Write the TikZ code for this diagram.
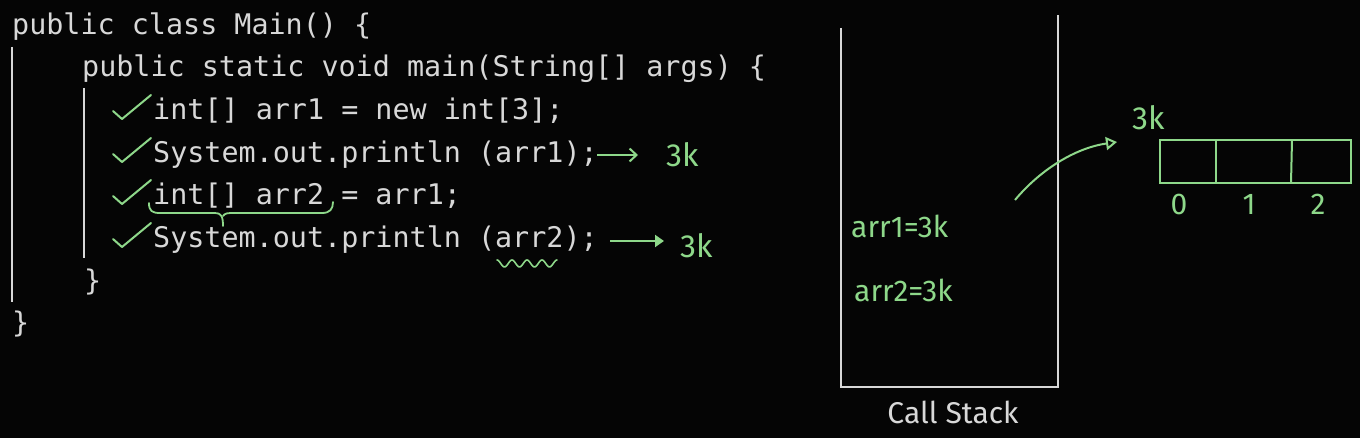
\documentclass[tikz,border=0pt]{standalone}
\usepackage{fontspec}
\newfontfamily\codefont{DejaVu Sans Mono}
\newfontfamily\handfont{Fira Sans}
\usetikzlibrary{arrows.meta}
\definecolor{codegray}{HTML}{D8D8D8}
\definecolor{chalk}{HTML}{8ED88A}
\definecolor{bg}{HTML}{050505}
\tikzset{
  codeline/.style={anchor=base west, inner sep=0pt, text=codegray,
    font=\codefont\fontsize{28.4}{34}\selectfont},
  guide/.style={draw=codegray, line width=2pt},
  tick/.style={draw=chalk, line width=2pt, line cap=round, line join=round},
  note/.style={inner sep=0pt, text=chalk, font=\handfont\fontsize{32}{36}\selectfont},
  stacknote/.style={inner sep=0pt, text=chalk, font=\handfont\fontsize{30}{34}\selectfont},
  stackwall/.style={draw=codegray, line width=2.5pt},
  cell/.style={draw=chalk, line width=2pt},
}
\begin{document}
\begin{tikzpicture}[x=1pt,y=-1pt]
\fill[bg] (0,0) rectangle (1360,438);
\useasboundingbox (0,0) rectangle (1360,438);

% code
\node[codeline] (l1) at (12,35) {public class Main() \{};
\node[codeline] (l2) at (82,77) {public static void main(String[] args) \{};
\node[codeline] (l3) at (153,120) {int[] arr1 = new int[3];};
\node[codeline] (l4) at (153,163) {System.out.println (arr1);};
\node[codeline] (l5) at (153,205) {int[] arr2 = arr1;};
\node[codeline] (l6) at (153,248) {System.out.println (arr2);};
\node[codeline] (l7) at (84,291) {\}};
\node[codeline] (l8) at (12,333) {\}};

% indentation guides
\draw[guide] (12,47) -- (12,302);
\draw[guide] (84,88) -- (84,258);

% check marks
\foreach \b in {120,163,205,248}{
  \draw[tick] (113,\b-9) -- (122,\b-1) -- (151,\b-25);
}

% annotations for printlns
\coordinate (a1s) at (597,155);
\coordinate (a1e) at (638,155);
\node[note, anchor=west] (k1) at (666,155) {3k};
\draw[chalk, line width=2pt, -{Straight Barb[length=7pt,width=13pt]}] (a1s) -- (a1e);
\coordinate (a2s) at (610,241);
\coordinate (a2e) at (664,241);
\node[note, anchor=west] (k2) at (680,246) {3k};
\draw[chalk, line width=2pt, -{Triangle[length=9pt,width=12pt]}] (a2s) -- (a2e);

% brace under "int[] arr2"
\draw[tick, line width=1.8pt] (149,203) .. controls (149,211) and (152,213) .. (160,213)
  -- (215,213) .. controls (221,213) and (223,216) .. (223,226);
\draw[tick, line width=1.8pt] (223,216) .. controls (225,213) and (228,213) .. (234,213)
  -- (322,213) .. controls (330,213) and (333,209) .. (333,202);

% squiggle under arr2
\draw[tick, line width=1.6pt] plot[domain=0:60, samples=61] ({497+\x},{263.5-3.5*cos(\x*24)});

% call stack
\draw[stackwall] (841,28) -- (841,387) -- (1058,387) -- (1058,15);
\node[inner sep=0pt, text=codegray, font=\handfont\fontsize{30}{34}\selectfont] (cs) at (953,412) {Call Stack};
\node[stacknote, anchor=west] (s1) at (851,226) {arr1=3k};
\node[stacknote, anchor=west] (s2) at (854,290) {arr2=3k};

% heap array
\node[note, anchor=west] (k3) at (1132,118) {3k};
\draw[cell] (1160,140) rectangle (1351,183);
\draw[cell] (1216,140) -- (1216,183);
\draw[cell] (1292,140) -- (1291,183);
\node[stacknote] (i0) at (1179,204) {0};
\node[stacknote] (i1) at (1249,204) {1};
\node[stacknote] (i2) at (1318,204) {2};

% reference arrow
\coordinate (rs) at (1015,200);
\coordinate (rt) at (1117,142);
\draw[chalk, line width=2pt, -{Triangle[open,length=11pt,width=13pt]}]
  (rs) .. controls (1040,170) and (1075,148) .. (rt);
\end{tikzpicture}
\end{document}
